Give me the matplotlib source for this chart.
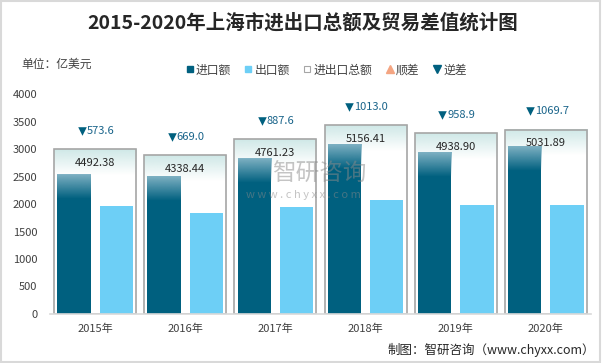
import numpy as np
import matplotlib
matplotlib.use('Agg')
import matplotlib.pyplot as plt
from matplotlib.lines import Line2D
from matplotlib.patches import Rectangle
from matplotlib.colors import to_rgb

plt.rcParams['font.family'] = ['Noto Sans CJK SC', 'DejaVu Sans']

years = ['2015年', '2016年', '2017年', '2018年', '2019年', '2020年']
imports = [2533, 2504, 2824, 3085, 2949, 3051]
exports = [1959, 1835, 1937, 2072, 1990, 1981]
totals = [4492.38, 4338.44, 4761.23, 5156.41, 4938.90, 5031.89]
deficits = [573.6, 669.0, 887.6, 1013.0, 958.9, 1069.7]

dark = '#00607f'
light = '#6dcff6'
txt = '#404040'
diff_col = '#19648a'

fig = plt.figure(figsize=(6.06, 3.63), dpi=100)
fig.patch.set_facecolor('white')

ax = fig.add_axes([0.0825, 0.135, 0.8927, 0.606])
ax_tot = ax.twinx()
ax.set_zorder(2)
ax_tot.set_zorder(1)
ax.patch.set_visible(False)

x = np.arange(len(years))


def vgrad(a, left, right, bottom, top, color, zorder):
    rgb = to_rgb(color)
    n = 64
    img = np.zeros((n, 1, 4))
    img[:, 0, :3] = rgb
    img[:, 0, 3] = np.linspace(1, 0, n)
    a.imshow(img, extent=(left, right, bottom, top), aspect='auto',
             zorder=zorder, interpolation='bilinear')


# total boxes (secondary scale 0-6000)
box_w = 0.91
ax_tot.bar(x, totals, width=box_w, color='white', edgecolor='none', zorder=1)
for i, t in enumerate(totals):
    vgrad(ax_tot, i - box_w / 2, i + box_w / 2, t - 700, t, '#cfe8e7', 2)
ax_tot.bar(x, totals, width=box_w, color='none', edgecolor='#a6a6a6',
           linewidth=1.2, zorder=3)

# deficit markers and labels
for i, (t, d) in enumerate(zip(totals, deficits)):
    lab = '%.1f' % d
    w_px = len(lab) * 5.6 - 3 + 10
    mx = i + (-w_px / 2 + 4) / 90.2
    ax_tot.scatter(mx, t + 500, marker='v', s=38, color=dark, zorder=4,
                   linewidths=0)
    ax_tot.text(mx + 5 / 90.2, t + 500, lab, ha='left', va='center',
                fontsize=8, color=diff_col, zorder=4)

ax_tot.set_ylim(0, 6000)
ax_tot.set_yticks([])
for s in ax_tot.spines.values():
    s.set_visible(False)

# bars
bw = 0.37
ax.bar(x - 0.235, imports, width=bw, color=dark, zorder=2)
ax.bar(x + 0.235, exports, width=bw, color=light, zorder=2)
for i, v in enumerate(imports):
    vgrad(ax, i - 0.235 - bw / 2, i - 0.235 + bw / 2, v - 450, v, '#7fb1c3', 3)

# total labels, positioned on the total scale but drawn above bars
for i, t in enumerate(totals):
    ax.annotate('%.2f' % t, xy=(i, t), xycoords=ax_tot.transData,
                xytext=(0, -10), textcoords='offset points',
                ha='center', va='center', fontsize=8, color='#262626', zorder=5)

ax.set_xlim(-0.5, 5.5)
ax.set_ylim(0, 4000)
ax.set_yticks([0, 500, 1000, 1500, 2000, 2500, 3000, 3500, 4000])
ax.set_xticks(x)
ax.set_xticklabels(years)
ax.tick_params(axis='both', length=0, labelsize=8, colors=txt)
ax.tick_params(axis='y', pad=9)
ax.tick_params(axis='x', pad=7)
for k in ['left', 'right', 'top']:
    ax.spines[k].set_visible(False)
ax.spines['bottom'].set_color('#d9d9d9')
ax.spines['bottom'].set_linewidth(1.2)

# watermark
fig.text(319 / 606, 1 - 174 / 363, '智研咨询', fontsize=17, color='#8a8a8a',
         alpha=0.5, ha='center', va='center', zorder=10)
fig.text(303 / 606, 1 - 195 / 363, 'w w w . c h y x x . c o m', fontsize=8,
         color='#8a8a8a', alpha=0.5, ha='center', va='center', zorder=10)

# title, unit, legend, source
fig.text(0.5, 1 - 23 / 363, '2015-2020年上海市进出口总额及贸易差值统计图',
         fontsize=14, fontweight='bold', color='#262626', ha='center', va='center')
fig.text(21 / 606, 1 - 64 / 363, '单位：亿美元', fontsize=8.5, color=txt,
         ha='left', va='center')

handles = [
    Line2D([], [], marker='s', linestyle='none', markersize=5, color=dark),
    Line2D([], [], marker='s', linestyle='none', markersize=5, color=light),
    Line2D([], [], marker='s', linestyle='none', markersize=5,
           markerfacecolor='white', markeredgecolor='#a6a6a6', markeredgewidth=0.8),
    Line2D([], [], marker='^', linestyle='none', markersize=6, color='#f4a582'),
    Line2D([], [], marker='v', linestyle='none', markersize=6, color=dark),
]
labels = ['进口额', '出口额', '进出口总额', '顺差', '逆差']
fig.legend(handles, labels, loc='center', bbox_to_anchor=(0.538, 1 - 70 / 363),
           ncol=5, frameon=False, fontsize=8.5, handlelength=0.7,
           handletextpad=0.2, columnspacing=1.1, labelcolor=txt)

fig.text(595 / 606, 1 - 350 / 363, '制图：智研咨询（www.chyxx.com）', fontsize=9,
         color='#262626', ha='right', va='center')

fig.patches.append(Rectangle((0.002, 0.003), 599 / 606, 0.994,
                             transform=fig.transFigure, fill=False,
                             edgecolor='#d9d9d9', linewidth=1.5))

fig.savefig('out.png', dpi=100)
